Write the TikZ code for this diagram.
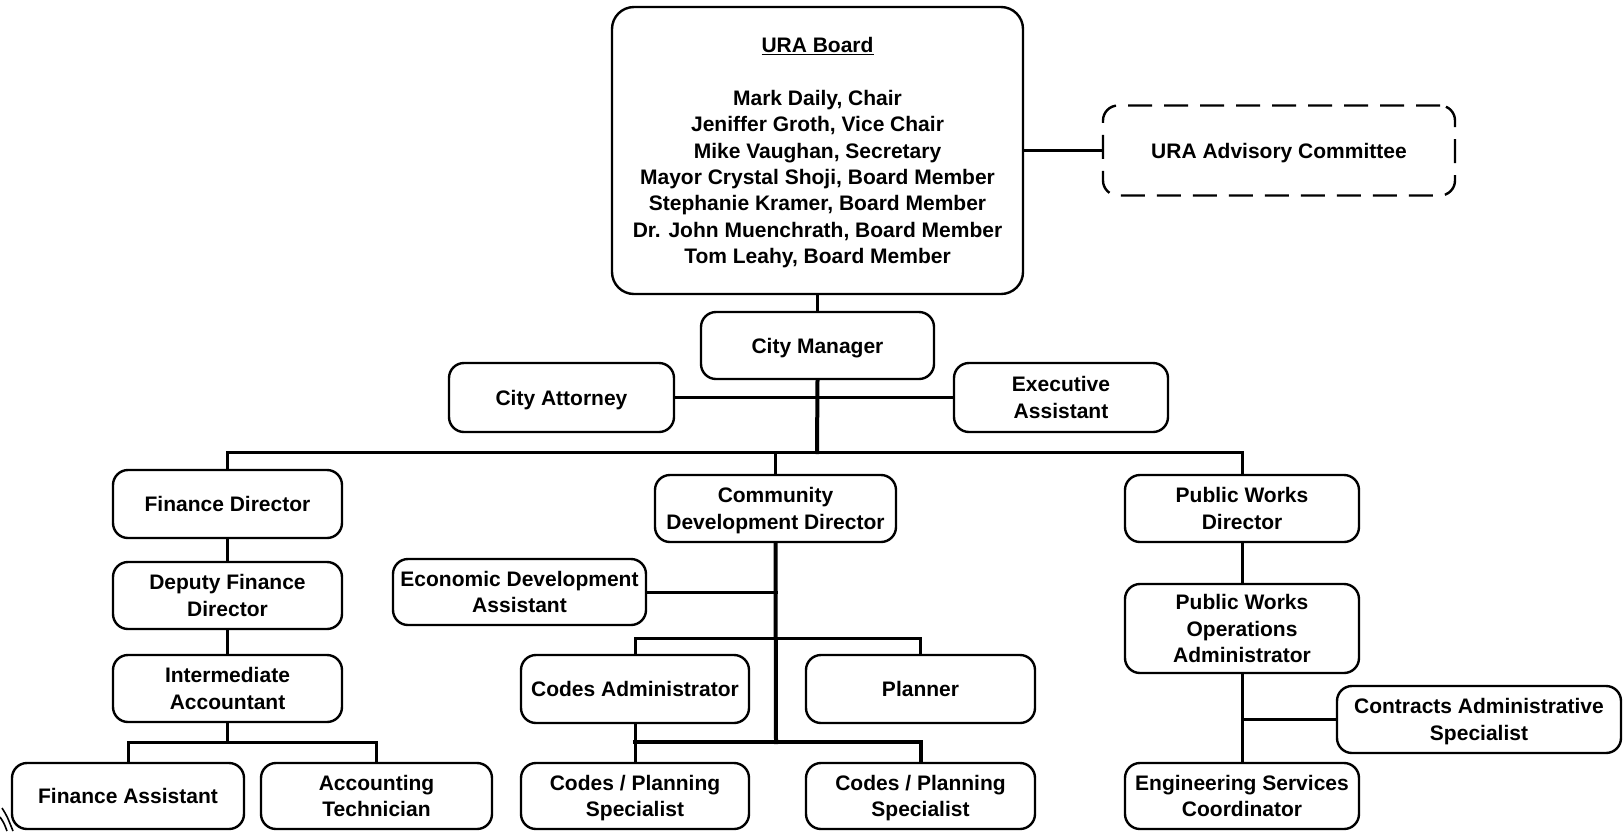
\documentclass[tikz,border=0pt]{standalone}
\usepackage{fontspec}
\setmainfont{Liberation Sans}
\usepackage{xcolor}
\usetikzlibrary{calc}
\definecolor{bg}{HTML}{FFFFFF}
\definecolor{ink}{HTML}{000000}
\tikzset{
  post/.style={draw=ink, line width=2.4pt, rounded corners=15pt, align=center, inner sep=0pt,
    text depth=0pt, font=\fontsize{21}{26.4}\selectfont\bfseries, text=ink},
  postdash/.style={post, dash pattern=on 24pt off 12pt},
  link/.style={draw=ink, line width=3pt, line cap=rect},
  linkb/.style={draw=ink, line width=4pt, line cap=rect},
}

\begin{document}
\begin{tikzpicture}[x=1pt, y=-1pt]
  \useasboundingbox[fill=bg] (0,0) rectangle (1623,831);
  % board and advisory
  \node[post, rounded corners=22pt, text depth=-4pt, minimum width=411pt, minimum height=287pt] (board) at (817.5,150.5)
    {\underline{URA Board}\\[26.4pt]Mark Daily, Chair\\Jeniffer Groth, Vice Chair\\Mike Vaughan, Secretary\\
     Mayor Crystal Shoji, Board Member\\Stephanie Kramer, Board Member\\Dr. John Muenchrath, Board Member\\
     Tom Leahy, Board Member};
  \node[postdash, minimum width=352pt, minimum height=90pt] (adv) at (1279,150.5) {URA Advisory Committee};
  % city manager row
  \node[post, minimum width=233pt, minimum height=67pt] (cm) at (817.5,345.5) {City Manager};
  \node[post, minimum width=225pt, minimum height=69pt] (att) at (561.5,397.5) {City Attorney};
  \node[post, minimum width=214pt, minimum height=69pt] (exa) at (1061,397.5) {Executive\\Assistant};
  % directors
  \node[post, minimum width=229pt, minimum height=68pt] (fd) at (227.5,504) {Finance Director};
  \node[post, minimum width=241pt, minimum height=67pt] (cdd) at (775.5,508.5) {Community\\Development Director};
  \node[post, minimum width=234pt, minimum height=67pt] (pwd) at (1242,508.5) {Public Works\\Director};
  % finance
  \node[post, minimum width=229pt, minimum height=67pt] (dfd) at (227.5,595.5) {Deputy Finance\\Director};
  \node[post, minimum width=229pt, minimum height=67pt] (ia) at (227.5,688.5) {Intermediate\\Accountant};
  \node[post, minimum width=232pt, minimum height=66pt] (fa) at (128,796) {Finance Assistant};
  \node[post, minimum width=231pt, minimum height=66pt] (act) at (376.5,796) {Accounting\\Technician};
  % community development
  \node[post, minimum width=253pt, minimum height=66pt] (eda) at (519.5,592) {Economic Development\\Assistant};
  \node[post, minimum width=228pt, minimum height=68pt] (ca) at (635,689) {Codes Administrator};
  \node[post, minimum width=229pt, minimum height=68pt] (pl) at (920.5,689) {Planner};
  \node[post, minimum width=228pt, minimum height=66pt] (cps1) at (635,796) {Codes / Planning\\Specialist};
  \node[post, minimum width=229pt, minimum height=66pt] (cps2) at (920.5,796) {Codes / Planning\\Specialist};
  % public works
  \node[post, minimum width=234pt, minimum height=89pt] (pwoa) at (1242,628.5) {Public Works\\Operations\\Administrator};
  \node[post, minimum width=284pt, minimum height=67pt] (cas) at (1479,719.5) {Contracts Administrative\\Specialist};
  \node[post, minimum width=234pt, minimum height=66pt] (esc) at (1242,796) {Engineering Services\\Coordinator};

  \coordinate (bus) at (817,452);
  \coordinate (fbus) at (227.5,742);
  \coordinate (sbus) at (776,638);
  \coordinate (cbus) at (776,742);

  \draw[link] (board.east) -- (adv.west);
  \draw[link] (board.south) -- (cm.north);
  \draw[link] (att.east) -- (exa.west);
  \draw[linkb] (cm.south) -- (bus);
  \draw[link] (fd.north) |- (bus) -| (pwd.north);
  \draw[link] (cdd.north) -- (cdd.north |- bus);
  \draw[link] (fd.south) -- (dfd.north);
  \draw[link] (dfd.south) -- (ia.north);
  \draw[link] (ia.south) -- (fbus);
  \draw[link] (fa.north) |- (fbus) -| (act.north);
  \draw[linkb] (cdd.south) -- (cbus);
  \draw[link] (eda.east) -- (eda.east -| sbus);
  \draw[link] (ca.north) |- (sbus) -| (pl.north);
  \draw[link] (ca.south) -- (cps1.north);
  \draw[linkb] (cps1.north |- cbus) -- (cbus) -| (cps2.north);
  \draw[link] (pwd.south) -- (pwoa.north);
  \draw[link] (pwoa.south) -- (esc.north);
  \draw[link] (cas.west) -- (cas.west -| pwoa.south);
  % stray marks at the edges
  \draw[ink, line width=1.6pt] (2,808) .. controls (7,816) .. (13,831);
  \draw[ink, line width=1.6pt] (0,817) .. controls (4,823) .. (7,831);
\end{tikzpicture}
\end{document}
